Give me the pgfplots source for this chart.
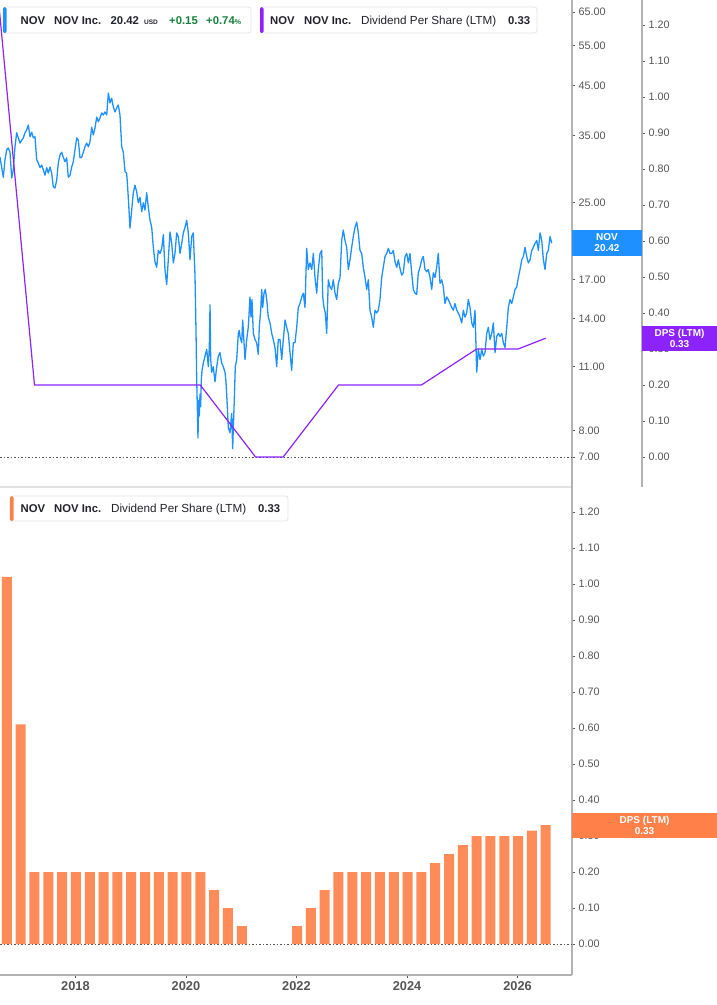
\documentclass[border=0pt]{standalone}
\usepackage{fontspec}
\setmainfont{Liberation Sans}
\usepackage{pgfplots}
\pgfplotsset{compat=1.18}

\definecolor{priceblue}{RGB}{30,144,255}
\definecolor{dpspurple}{RGB}{140,35,250}
\definecolor{barorange}{RGB}{255,140,88}
\definecolor{boxorange}{RGB}{255,128,72}
\definecolor{tickgray}{RGB}{85,85,85}
\definecolor{axisgray}{RGB}{178,178,178}
\definecolor{sepgray}{RGB}{226,226,226}
\definecolor{txtdark}{RGB}{35,35,45}
\definecolor{upgreen}{RGB}{22,128,60}
\definecolor{legborder}{RGB}{228,228,232}

\pgfplotsset{
  panel/.style={
    scale only axis,
    anchor=north west,
    /pgf/number format/assume math mode=true,
    tick align=outside,
    major tick length=3pt,
    tick style={draw=tickgray, line width=0.8pt},
    y axis line style={draw=axisgray, line width=1.6pt},
    x axis line style={draw=axisgray, line width=1.6pt},
    yticklabel style={font=\fontsize{10.8}{12}\selectfont, text=tickgray, anchor=west},
  },
}

\begin{document}
\begin{tikzpicture}
\useasboundingbox (0pt,0pt) rectangle (717pt,-1005pt);

%% top panel, price (log)
\begin{axis}[panel,
    at={(0pt,0pt)}, width=572pt, height=487pt,
    xmin=2016.636, xmax=2026.985,
    ymode=log, ymin=6.024, ymax=69.0,
    axis x line=none, axis y line*=right,
    yminorticks=false,
    ytick={7,8,11,14,17,20,25,35,45,55,65},
    yticklabels={7.00,8.00,11.00,14.00,17.00,20.00,25.00,35.00,45.00,55.00,65.00},
  ]
  \addplot[priceblue, line width=1.3pt, line join=round] table {
    x y
    2016.636 31.4
    2016.667 29.8
    2016.696 28.4
    2016.726 31.0
    2016.757 32.6
    2016.786 32.9
    2016.817 32.2
    2016.848 28.3
    2016.877 29.5
    2016.907 33.1
    2016.938 35.5
    2016.967 34.6
    2016.998 33.7
    2017.029 34.2
    2017.058 34.6
    2017.088 35.5
    2017.119 36.0
    2017.148 36.9
    2017.179 34.8
    2017.210 35.6
    2017.238 34.6
    2017.269 34.8
    2017.300 31.0
    2017.329 30.5
    2017.360 29.8
    2017.390 30.2
    2017.419 29.5
    2017.450 28.7
    2017.481 29.8
    2017.510 29.0
    2017.541 29.9
    2017.571 29.0
    2017.600 27.1
    2017.631 26.9
    2017.662 28.0
    2017.691 30.5
    2017.722 31.8
    2017.752 32.2
    2017.781 31.4
    2017.812 30.7
    2017.843 31.3
    2017.872 28.4
    2017.903 28.7
    2017.933 29.9
    2017.962 30.7
    2017.993 32.6
    2018.024 34.6
    2018.053 34.2
    2018.083 31.3
    2018.114 31.4
    2018.143 32.2
    2018.174 33.1
    2018.205 33.7
    2018.234 33.1
    2018.264 33.9
    2018.295 36.5
    2018.324 35.1
    2018.355 36.4
    2018.386 38.4
    2018.415 37.5
    2018.445 38.2
    2018.476 39.2
    2018.505 38.8
    2018.536 39.4
    2018.567 38.8
    2018.596 43.3
    2018.626 41.2
    2018.657 42.2
    2018.686 40.4
    2018.717 39.4
    2018.747 40.2
    2018.776 40.8
    2018.807 38.8
    2018.838 33.1
    2018.867 32.2
    2018.898 29.2
    2018.928 29.0
    2018.957 25.7
    2018.988 22.0
    2019.019 24.1
    2019.048 26.3
    2019.078 27.3
    2019.109 26.4
    2019.138 25.0
    2019.169 25.7
    2019.200 23.9
    2019.229 25.0
    2019.259 24.1
    2019.290 26.3
    2019.319 24.5
    2019.350 22.9
    2019.381 22.1
    2019.410 20.0
    2019.440 18.6
    2019.471 18.1
    2019.500 19.7
    2019.531 19.4
    2019.562 19.9
    2019.591 21.3
    2019.621 17.9
    2019.652 16.6
    2019.681 18.8
    2019.712 21.6
    2019.743 20.4
    2019.772 18.5
    2019.802 19.4
    2019.833 21.5
    2019.862 21.1
    2019.893 19.4
    2019.924 20.4
    2019.953 21.5
    2019.983 22.1
    2020.014 22.9
    2020.043 21.5
    2020.074 18.8
    2020.104 21.1
    2020.133 21.5
    2020.164 17.4
    2020.182 13.2
    2020.195 10.3
    2020.206 9.0
    2020.218 7.7
    2020.231 9.3
    2020.242 8.6
    2020.255 9.6
    2020.267 9.0
    2020.278 10.3
    2020.291 10.8
    2020.314 11.2
    2020.345 11.6
    2020.376 12.0
    2020.405 11.0
    2020.423 12.1
    2020.436 15.0
    2020.448 11.4
    2020.466 10.7
    2020.495 11.0
    2020.526 10.2
    2020.557 11.0
    2020.586 11.6
    2020.616 11.8
    2020.647 11.2
    2020.676 11.0
    2020.707 10.7
    2020.725 10.2
    2020.749 9.0
    2020.767 8.1
    2020.797 7.9
    2020.828 8.7
    2020.846 7.3
    2020.857 8.1
    2020.875 9.3
    2020.893 11.0
    2020.918 11.4
    2020.948 13.0
    2020.966 13.2
    2020.978 12.8
    2021.009 12.4
    2021.027 13.9
    2021.051 12.4
    2021.069 11.4
    2021.099 12.6
    2021.128 13.4
    2021.159 15.6
    2021.177 14.1
    2021.195 15.4
    2021.219 13.0
    2021.250 12.6
    2021.280 12.4
    2021.309 11.7
    2021.327 13.4
    2021.353 14.6
    2021.371 16.2
    2021.389 14.8
    2021.413 15.9
    2021.436 16.2
    2021.462 15.4
    2021.490 14.1
    2021.521 13.7
    2021.552 13.0
    2021.581 12.6
    2021.612 12.1
    2021.642 11.0
    2021.671 12.6
    2021.702 12.6
    2021.733 11.4
    2021.762 12.6
    2021.793 13.9
    2021.823 13.4
    2021.852 13.0
    2021.883 11.8
    2021.914 10.8
    2021.943 12.4
    2021.973 12.4
    2022.004 13.4
    2022.033 14.8
    2022.064 15.1
    2022.095 15.6
    2022.124 15.9
    2022.154 14.8
    2022.185 19.9
    2022.214 17.9
    2022.245 18.5
    2022.276 17.9
    2022.305 19.4
    2022.335 17.2
    2022.366 15.9
    2022.395 17.9
    2022.426 19.4
    2022.457 19.7
    2022.475 15.6
    2022.498 14.8
    2022.522 14.4
    2022.547 13.0
    2022.576 17.0
    2022.607 16.4
    2022.637 16.2
    2022.666 17.0
    2022.697 15.9
    2022.728 15.4
    2022.757 16.7
    2022.788 17.2
    2022.818 20.7
    2022.847 21.8
    2022.878 20.7
    2022.909 20.0
    2022.938 17.9
    2022.969 18.8
    2022.999 20.0
    2023.028 21.1
    2023.059 22.1
    2023.090 22.7
    2023.119 21.5
    2023.149 19.7
    2023.180 19.4
    2023.209 18.1
    2023.240 17.2
    2023.271 16.2
    2023.300 17.0
    2023.330 14.6
    2023.361 14.1
    2023.390 13.4
    2023.421 14.6
    2023.452 14.4
    2023.481 14.6
    2023.511 15.4
    2023.542 17.2
    2023.571 18.1
    2023.602 19.1
    2023.633 19.4
    2023.662 19.9
    2023.692 19.4
    2023.723 19.4
    2023.752 19.7
    2023.783 18.6
    2023.814 18.1
    2023.843 18.8
    2023.873 18.0
    2023.904 17.4
    2023.933 17.6
    2023.964 19.1
    2023.995 19.4
    2024.024 18.5
    2024.054 19.4
    2024.085 17.6
    2024.114 16.2
    2024.145 15.9
    2024.175 15.8
    2024.204 17.6
    2024.235 18.1
    2024.266 18.8
    2024.295 19.1
    2024.326 17.9
    2024.356 17.7
    2024.385 17.9
    2024.416 17.2
    2024.447 16.2
    2024.476 17.6
    2024.506 17.2
    2024.537 18.1
    2024.566 19.4
    2024.597 16.7
    2024.628 17.0
    2024.657 16.4
    2024.687 15.1
    2024.718 15.6
    2024.747 15.4
    2024.778 15.1
    2024.809 14.8
    2024.838 14.6
    2024.868 15.1
    2024.899 14.6
    2024.928 14.4
    2024.959 14.1
    2024.990 13.7
    2025.019 14.6
    2025.049 14.1
    2025.080 14.4
    2025.109 15.4
    2025.140 14.8
    2025.171 13.7
    2025.200 13.4
    2025.230 14.6
    2025.261 10.7
    2025.290 12.0
    2025.321 11.4
    2025.352 12.0
    2025.381 11.6
    2025.411 11.8
    2025.442 13.0
    2025.471 13.4
    2025.502 12.6
    2025.533 13.0
    2025.562 13.7
    2025.592 11.8
    2025.623 12.8
    2025.652 13.0
    2025.683 12.8
    2025.714 13.0
    2025.743 12.4
    2025.773 12.1
    2025.804 13.4
    2025.833 14.8
    2025.864 15.4
    2025.895 15.1
    2025.924 15.6
    2025.954 16.2
    2025.985 16.4
    2026.014 17.2
    2026.045 17.9
    2026.076 18.8
    2026.105 19.1
    2026.135 20.0
    2026.166 19.1
    2026.195 18.5
    2026.226 18.8
    2026.257 19.7
    2026.286 20.0
    2026.316 20.4
    2026.347 20.7
    2026.376 19.7
    2026.407 21.5
    2026.438 20.7
    2026.467 18.8
    2026.497 17.9
    2026.528 19.4
    2026.557 19.7
    2026.588 21.1
    2026.618 20.42
  };
\end{axis}

%% top panel, dividend per share line (second right axis)
\begin{axis}[panel,
    at={(0pt,0pt)}, width=642pt, height=487pt,
    xmin=2016.636, xmax=2028.252,
    ymin=-0.0833, ymax=1.2694,
    axis x line=none, axis y line*=right,
    ytick={0,0.1,0.2,0.3,0.4,0.5,0.6,0.7,0.8,0.9,1.0,1.1,1.2},
    yticklabels={0.00,0.10,0.20,0.30,0.40,0.50,0.60,0.70,0.80,0.90,1.00,1.10,1.20},
  ]
  \draw[tickgray, line width=0.8pt, dash pattern=on 1.5pt off 2pt]
    (axis cs:2016.636,0) -- (axis cs:2026.985,0);
  \addplot[dpspurple, line width=1.2pt] table {
    x y
    2016.51 1.43
    2016.76 1.02
    2017.01 0.61
    2017.26 0.20
    2017.51 0.20
    2017.76 0.20
    2018.01 0.20
    2018.26 0.20
    2018.51 0.20
    2018.76 0.20
    2019.01 0.20
    2019.26 0.20
    2019.51 0.20
    2019.76 0.20
    2020.01 0.20
    2020.26 0.20
    2020.51 0.15
    2020.76 0.10
    2021.01 0.05
    2021.26 0.00
    2021.51 0.00
    2021.76 0.00
    2022.01 0.05
    2022.26 0.10
    2022.51 0.15
    2022.76 0.20
    2023.01 0.20
    2023.26 0.20
    2023.51 0.20
    2023.76 0.20
    2024.01 0.20
    2024.26 0.20
    2024.51 0.225
    2024.76 0.25
    2025.01 0.275
    2025.26 0.30
    2025.51 0.30
    2025.76 0.30
    2026.01 0.30
    2026.26 0.315
    2026.51 0.33
  };
\end{axis}

\draw[sepgray, line width=2pt] (0pt,-487pt) -- (571pt,-487pt);

%% bottom panel, dividend per share bars
\begin{axis}[panel,
    at={(0pt,-487pt)}, width=572pt, height=488pt,
    xmin=2016.636, xmax=2026.985,
    ymin=-0.0861, ymax=1.2694,
    axis x line*=bottom, axis y line*=right,
    ybar, bar width=10pt,
    xtick={2018,2020,2022,2024,2026},
    xticklabels={2018,2020,2022,2024,2026},
    xticklabel style={font=\fontsize{12.8}{14}\selectfont\bfseries, text=tickgray},
    ytick={0,0.1,0.2,0.3,0.4,0.5,0.6,0.7,0.8,0.9,1.0,1.1,1.2},
    yticklabels={0.00,0.10,0.20,0.30,0.40,0.50,0.60,0.70,0.80,0.90,1.00,1.10,1.20},
  ]
  \draw[tickgray, line width=0.8pt, dash pattern=on 1.5pt off 2pt]
    (axis cs:2016.636,0) -- (axis cs:2026.985,0);
  \addplot[fill=barorange, draw=none] table {
    x y
    2016.76 1.02
    2017.01 0.61
    2017.26 0.20
    2017.51 0.20
    2017.76 0.20
    2018.01 0.20
    2018.26 0.20
    2018.51 0.20
    2018.76 0.20
    2019.01 0.20
    2019.26 0.20
    2019.51 0.20
    2019.76 0.20
    2020.01 0.20
    2020.26 0.20
    2020.51 0.15
    2020.76 0.10
    2021.01 0.05
    2022.01 0.05
    2022.26 0.10
    2022.51 0.15
    2022.76 0.20
    2023.01 0.20
    2023.26 0.20
    2023.51 0.20
    2023.76 0.20
    2024.01 0.20
    2024.26 0.20
    2024.51 0.225
    2024.76 0.25
    2025.01 0.275
    2025.26 0.30
    2025.51 0.30
    2025.76 0.30
    2026.01 0.30
    2026.26 0.315
    2026.51 0.33
  };
\end{axis}

%% value tags on the right
\fill[priceblue] (572pt,-230pt) rectangle (642pt,-256pt);
\node[text=white, font=\fontsize{10}{11}\selectfont\bfseries, align=center, inner sep=0pt]
  at (607pt,-243pt) {NOV\\20.42};
\fill[dpspurple] (642pt,-326pt) rectangle (717pt,-351pt);
\node[text=white, font=\fontsize{10}{11}\selectfont\bfseries, align=center, inner sep=0pt]
  at (679.5pt,-338.5pt) {DPS (LTM)\\0.33};
\fill[boxorange] (572pt,-813pt) rectangle (717pt,-838pt);
\node[text=white, font=\fontsize{10}{11}\selectfont\bfseries, align=center, inner sep=0pt]
  at (644.5pt,-825.5pt) {DPS (LTM)\\0.33};

%% legends
\draw[legborder, fill=white, rounded corners=2.5pt, line width=0.8pt] (3pt,-7pt) rectangle (251pt,-33pt);
\fill[priceblue, rounded corners=1.5pt] (3pt,-7pt) rectangle (6.5pt,-33pt);
\begin{scope}[every node/.style={anchor=base west, inner sep=0pt, text=txtdark,
    font=\fontsize{11.3}{13}\selectfont\bfseries}]
  \node at (20.5pt,-24pt) {NOV};
  \node at (54pt,-24pt) {NOV Inc.};
  \node at (110.5pt,-24pt) {20.42};
  \node[font=\fontsize{6.5}{8}\selectfont\bfseries] at (144pt,-24pt) {USD};
  \node[text=upgreen] at (169pt,-24pt) {+0.15};
  \node[text=upgreen] at (206pt,-24pt) {+0.74{\fontsize{7}{8}\selectfont\%}};
\end{scope}

\draw[legborder, fill=white, rounded corners=2.5pt, line width=0.8pt] (260pt,-7pt) rectangle (537pt,-33pt);
\fill[dpspurple, rounded corners=1.5pt] (260pt,-7pt) rectangle (263.5pt,-33pt);
\begin{scope}[every node/.style={anchor=base west, inner sep=0pt, text=txtdark,
    font=\fontsize{11.3}{13}\selectfont\bfseries}]
  \node at (270pt,-24pt) {NOV};
  \node at (304pt,-24pt) {NOV Inc.};
  \node[font=\fontsize{11.7}{13}\selectfont] at (361pt,-24pt) {Dividend Per Share (LTM)};
  \node at (508pt,-24pt) {0.33};
\end{scope}

\draw[legborder, fill=white, rounded corners=2.5pt, line width=0.8pt] (10pt,-496pt) rectangle (288pt,-521pt);
\fill[boxorange, rounded corners=1.5pt] (10pt,-496pt) rectangle (13.5pt,-521pt);
\begin{scope}[every node/.style={anchor=base west, inner sep=0pt, text=txtdark,
    font=\fontsize{11.3}{13}\selectfont\bfseries}]
  \node at (20.5pt,-512.5pt) {NOV};
  \node at (54pt,-512.5pt) {NOV Inc.};
  \node[font=\fontsize{11.7}{13}\selectfont] at (111pt,-512.5pt) {Dividend Per Share (LTM)};
  \node at (258pt,-512.5pt) {0.33};
\end{scope}
\end{tikzpicture}
\end{document}
